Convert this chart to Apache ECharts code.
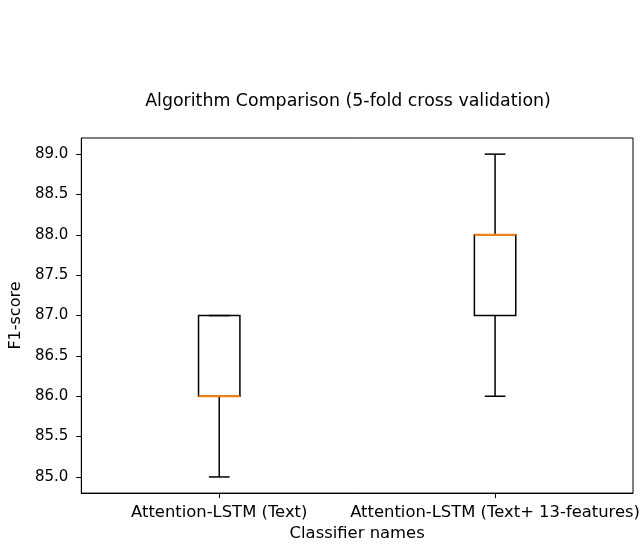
<!DOCTYPE html>
<html><head><meta charset="utf-8">
<script src="https://cdn.jsdelivr.net/npm/echarts@6/dist/echarts.min.js"></script>
<style>html,body{margin:0;padding:0;background:#fff}#c{width:643px;height:547px}</style>
</head><body><div id="c"></div>
<script>
const categories = ['Attention-LSTM (Text)', 'Attention-LSTM (Text+ 13-features)'];
const whiskerLow = [85, 86];
const q1 = [86, 87];
const median = [86, 88];
const q3 = [87, 88];
const whiskerHigh = [87, 89];
const yTicks = [85.0, 85.5, 86.0, 86.5, 87.0, 87.5, 88.0, 88.5, 89.0];
const titleText = 'Algorithm Comparison (5-fold cross validation)';

const data = categories.map((c, i) => [i, whiskerLow[i], q1[i], median[i], q3[i], whiskerHigh[i]]);
const font = 'DejaVu Sans';
const chart = echarts.init(document.getElementById('c'));
chart.setOption({
  animation: false,
  graphic: [{
    type: 'text', x: 348, y: 101,
    style: {text: titleText, x: 0, y: 0, align: 'center', verticalAlign: 'middle',
      font: '17.4px "DejaVu Sans"', fill: '#000'}
  }],
  grid: {left: 80, right: 10, top: 138, bottom: 45, show: true, borderColor: '#000', borderWidth: 1, backgroundColor: 'transparent'},
  xAxis: {
    type: 'category', data: categories, boundaryGap: true,
    name: 'Classifier names', nameLocation: 'middle', nameGap: 32,
    nameTextStyle: {fontFamily: font, fontSize: 16.4, color: '#000'},
    axisLine: {show: true, lineStyle: {color: '#000', width: 1}},
    axisTick: {show: true, alignWithLabel: true, length: 5, lineStyle: {color: '#000'}},
    axisLabel: {fontFamily: font, fontSize: 16.4, color: '#000', margin: 12, interval: 0},
    splitLine: {show: false}
  },
  yAxis: {
    type: 'value', min: 84.8, max: 89.2,
    name: 'F1-score', nameLocation: 'middle', nameGap: 54,
    nameTextStyle: {fontFamily: font, fontSize: 16, color: '#000'},
    axisLine: {show: true, lineStyle: {color: '#000', width: 1}},
    axisTick: {show: true, length: 5, lineStyle: {color: '#000'}, customValues: yTicks},
    axisLabel: {fontFamily: font, fontSize: 15, color: '#000', margin: 13, customValues: yTicks,
      formatter: v => Number(v).toFixed(1)},
    splitLine: {show: false}
  },
  series: [{
    type: 'custom',
    data: data,
    encode: {x: 0, y: [1, 2, 3, 4, 5]},
    renderItem: function (params, api) {
      const xi = api.value(0);
      const band = api.size([1, 0])[0];
      const boxW = band * 0.15;
      const capW = boxW / 2;
      const pLow = api.coord([xi, api.value(1)]);
      const pQ1 = api.coord([xi, api.value(2)]);
      const pMed = api.coord([xi, api.value(3)]);
      const pQ3 = api.coord([xi, api.value(4)]);
      const pHigh = api.coord([xi, api.value(5)]);
      const cx = pQ1[0];
      const ls = {stroke: '#000', lineWidth: 1.5, fill: null};
      return {
        type: 'group',
        children: [
          {type: 'line', shape: {x1: cx, y1: pQ1[1], x2: cx, y2: pLow[1]}, style: ls},
          {type: 'line', shape: {x1: cx, y1: pQ3[1], x2: cx, y2: pHigh[1]}, style: ls},
          {type: 'line', shape: {x1: cx - capW / 2, y1: pLow[1], x2: cx + capW / 2, y2: pLow[1]}, style: ls},
          {type: 'line', shape: {x1: cx - capW / 2, y1: pHigh[1], x2: cx + capW / 2, y2: pHigh[1]}, style: ls},
          {type: 'rect', shape: {x: cx - boxW / 2, y: pQ3[1], width: boxW, height: pQ1[1] - pQ3[1]}, style: {stroke: '#000', lineWidth: 1.5, fill: 'none'}},
          {type: 'line', shape: {x1: cx - boxW / 2, y1: pMed[1], x2: cx + boxW / 2, y2: pMed[1]}, style: {stroke: '#ff7f0e', lineWidth: 2}}
        ]
      };
    }
  }]
});
</script></body></html>
